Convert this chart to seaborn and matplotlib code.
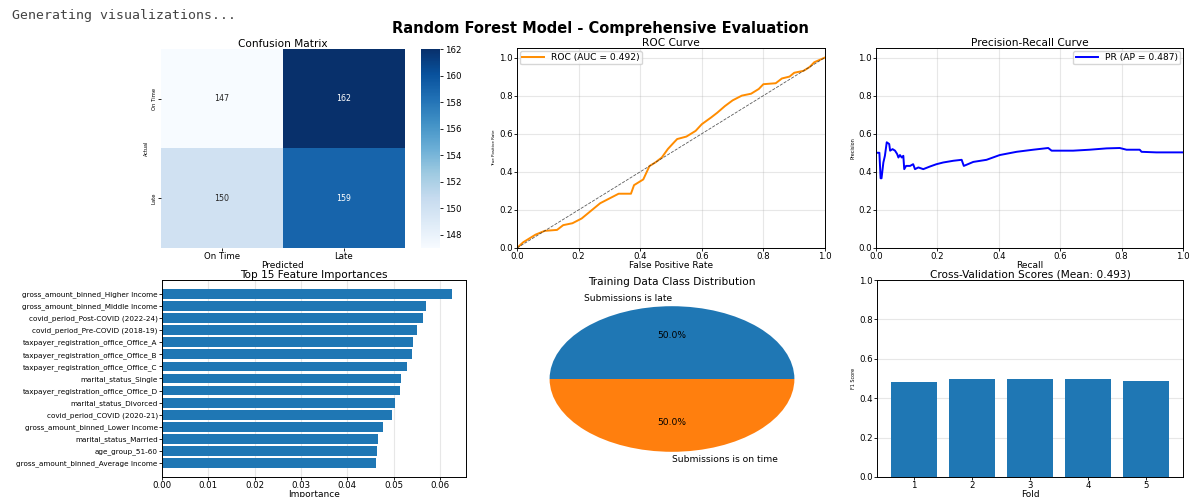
import matplotlib
matplotlib.use("Agg")
import matplotlib.pyplot as plt
import numpy as np
import pandas as pd
import seaborn as sns

# ---- data -------------------------------------------------------------
class_names = ["On Time", "Late"]
confusion = [[147, 162],
             [150, 159]]

roc_fpr = [0.0, 0.02, 0.04, 0.06, 0.09, 0.13, 0.15, 0.18, 0.21, 0.24, 0.27,
           0.30, 0.33, 0.37, 0.38, 0.41, 0.43, 0.45, 0.47, 0.49, 0.51, 0.52,
           0.55, 0.58, 0.60, 0.63, 0.65, 0.675, 0.70, 0.73, 0.76, 0.785, 0.80,
           0.84, 0.86, 0.885, 0.90, 0.93, 0.95, 0.965, 1.0]
roc_tpr = [0.0, 0.03, 0.05, 0.07, 0.09, 0.095, 0.12, 0.13, 0.155, 0.195, 0.235,
           0.26, 0.285, 0.285, 0.33, 0.36, 0.43, 0.45, 0.475, 0.52, 0.555, 0.572,
           0.585, 0.615, 0.65, 0.685, 0.71, 0.745, 0.775, 0.80, 0.81, 0.835, 0.86,
           0.865, 0.89, 0.90, 0.92, 0.93, 0.95, 0.975, 1.0]
roc_auc = 0.492

pr_recall = [0.0, 0.0, 0.011, 0.015, 0.018, 0.024, 0.029, 0.035, 0.043, 0.046,
             0.054, 0.062, 0.069, 0.073, 0.078, 0.084, 0.089, 0.092, 0.098, 0.111,
             0.121, 0.127, 0.138, 0.154, 0.176, 0.197, 0.219, 0.252, 0.279, 0.286,
             0.317, 0.360, 0.403, 0.458, 0.512, 0.561, 0.572, 0.642, 0.696, 0.751,
             0.794, 0.816, 0.859, 0.865, 0.913, 0.967, 1.0]
pr_precision = [1.0, 0.50, 0.50, 0.366, 0.366, 0.449, 0.484, 0.555, 0.546, 0.511,
                0.519, 0.511, 0.493, 0.475, 0.488, 0.475, 0.484, 0.414, 0.431, 0.431,
                0.440, 0.414, 0.423, 0.414, 0.428, 0.440, 0.449, 0.458, 0.463, 0.431,
                0.452, 0.463, 0.488, 0.505, 0.516, 0.525, 0.511, 0.511, 0.516, 0.523,
                0.525, 0.516, 0.516, 0.505, 0.502, 0.502, 0.502]
pr_ap = 0.487

feature_names = [
    "gross_amount_binned_Higher Income",
    "gross_amount_binned_Middle Income",
    "covid_period_Post-COVID (2022-24)",
    "covid_period_Pre-COVID (2018-19)",
    "taxpayer_registration_office_Office_A",
    "taxpayer_registration_office_Office_B",
    "taxpayer_registration_office_Office_C",
    "marital_status_Single",
    "taxpayer_registration_office_Office_D",
    "marital_status_Divorced",
    "covid_period_COVID (2020-21)",
    "gross_amount_binned_Lower Income",
    "marital_status_Married",
    "age_group_51-60",
    "gross_amount_binned_Average Income",
]
feature_importance = [0.0625, 0.0570, 0.0563, 0.0550, 0.0541, 0.0540, 0.0529,
                      0.0515, 0.0514, 0.0502, 0.0497, 0.0477, 0.0467, 0.0465,
                      0.0462]

class_labels = ["Submissions is late", "Submissions is on time"]
class_share = [50.0, 50.0]

cv_folds = [1, 2, 3, 4, 5]
cv_scores = [0.483, 0.500, 0.500, 0.495, 0.485]

# ---- layout helpers ---------------------------------------------------
W, H = 1194, 497
BAR_BLUE = "#1f77b4"
TICK = 6.2
LABEL = 6.5
TITLE = 7.6
LEGEND = 6.6
VLABEL = 3.5

fig = plt.figure(figsize=(W / 100, H / 100), dpi=100)


def box(left, top, right, bottom):
    return fig.add_axes([left / W, 1 - bottom / H, (right - left) / W, (bottom - top) / H])


def style(ax):
    ax.tick_params(labelsize=TICK, length=2, width=0.6, pad=1)
    for s in ax.spines.values():
        s.set_linewidth(0.7)


fig.text(12 / W, 1 - 15 / H, "Generating visualizations...", family="DejaVu Sans Mono",
         fontsize=9.5, color="#444444", va="center", ha="left")
fig.text(600 / W, 1 - 28 / H, "Random Forest Model - Comprehensive Evaluation",
         fontsize=10.5, fontweight="bold", ha="center", va="center")

# ---- confusion matrix -------------------------------------------------
ax_cm = box(161, 49, 405, 248)
cax = box(421, 49, 440, 248)
cm_df = pd.DataFrame(confusion, index=class_names, columns=class_names)
sns.heatmap(cm_df, annot=True, fmt="d", cmap="Blues", ax=ax_cm, cbar_ax=cax,
            annot_kws={"size": 5.7})
ax_cm.set_title("Confusion Matrix", fontsize=TITLE, pad=0.8)
ax_cm.set_xlabel("Predicted", fontsize=LABEL, labelpad=0)
ax_cm.set_ylabel("Actual", fontsize=VLABEL, labelpad=2)
style(ax_cm)
for t in ax_cm.get_yticklabels():
    t.set_fontsize(3.8)
cax.tick_params(labelsize=TICK, length=2, width=0.6, pad=1.5)

# ---- ROC curve --------------------------------------------------------
ax_roc = box(517, 48, 825, 248)
sns.lineplot(x=roc_fpr, y=roc_tpr, ax=ax_roc, color="darkorange", lw=1.4,
             sort=False, estimator=None, label=f"ROC (AUC = {roc_auc:.3f})")
ax_roc.plot([0, 1], [0, 1], color="#333333", ls="--", lw=0.6, alpha=0.8)
ax_roc.set_xlim(0, 1)
ax_roc.set_ylim(0, 1.05)
ax_roc.set_title("ROC Curve", fontsize=TITLE, pad=0.8)
ax_roc.set_xlabel("False Positive Rate", fontsize=LABEL, labelpad=0)
ax_roc.set_ylabel("True Positive Rate", fontsize=3.0, labelpad=2)
ax_roc.grid(alpha=0.3)
ax_roc.legend(loc="upper left", fontsize=LEGEND, handlelength=2.4, borderpad=0.25,
              labelspacing=0.2, borderaxespad=0.3)
style(ax_roc)

# ---- precision-recall curve -------------------------------------------
ax_pr = box(876, 48, 1183, 248)
sns.lineplot(x=pr_recall, y=pr_precision, ax=ax_pr, color="blue", lw=1.4,
             sort=False, estimator=None, label=f"PR (AP = {pr_ap:.3f})")
ax_pr.set_xlim(0, 1)
ax_pr.set_ylim(0, 1.05)
ax_pr.set_title("Precision-Recall Curve", fontsize=TITLE, pad=0.8)
ax_pr.set_xlabel("Recall", fontsize=LABEL, labelpad=0)
ax_pr.set_ylabel("Precision", fontsize=VLABEL, labelpad=2)
ax_pr.grid(alpha=0.3)
ax_pr.legend(loc="upper right", fontsize=LEGEND, handlelength=2.4, borderpad=0.25,
             labelspacing=0.2, borderaxespad=0.3)
style(ax_pr)

# ---- feature importances ----------------------------------------------
ax_fi = box(162, 280, 466, 477)
sns.barplot(x=feature_importance, y=feature_names, orient="h", color=BAR_BLUE,
            saturation=1, ax=ax_fi)
n = len(feature_names)
ax_fi.set_ylim(n - 0.6 + 0.74, -0.4 - 0.74)
ax_fi.set_xlim(0, max(feature_importance) * 1.05)
ax_fi.set_title("Top 15 Feature Importances", fontsize=TITLE, pad=1.5)
ax_fi.set_xlabel("Importance", fontsize=LABEL, labelpad=0)
ax_fi.set_ylabel("")
ax_fi.grid(axis="x", alpha=0.3)
ax_fi.set_axisbelow(True)
style(ax_fi)
ax_fi.tick_params(axis="y", labelsize=5.2)

# ---- class distribution pie -------------------------------------------
ax_pie = box(519, 288, 825, 470)
wedges, texts, autotexts = ax_pie.pie(class_share, labels=class_labels,
                                      autopct="%1.1f%%",
                                      textprops={"fontsize": 6.6})
ax_pie.set_aspect("auto")
ax_pie.set_xlim(-1.25, 1.25)
ax_pie.set_ylim(-1.25, 1.25)
texts[0].set_ha("right")
texts[1].set_ha("left")
ax_pie.set_title("Training Data Class Distribution", fontsize=TITLE, pad=2)

# ---- cross-validation scores ------------------------------------------
ax_cv = box(877, 280, 1183, 477)
sns.barplot(x=cv_folds, y=cv_scores, color=BAR_BLUE, saturation=1, ax=ax_cv)
ax_cv.set_xlim(-0.64, len(cv_folds) - 1 + 0.64)
ax_cv.set_ylim(0, 1)
ax_cv.set_title(f"Cross-Validation Scores (Mean: {np.mean(cv_scores):.3f})",
                fontsize=TITLE, pad=1.5)
ax_cv.set_xlabel("Fold", fontsize=LABEL, labelpad=0)
ax_cv.set_ylabel("F1 Score", fontsize=VLABEL, labelpad=2)
ax_cv.grid(axis="y", alpha=0.3)
ax_cv.set_axisbelow(True)
style(ax_cv)

fig.savefig("out.png", dpi=100)
